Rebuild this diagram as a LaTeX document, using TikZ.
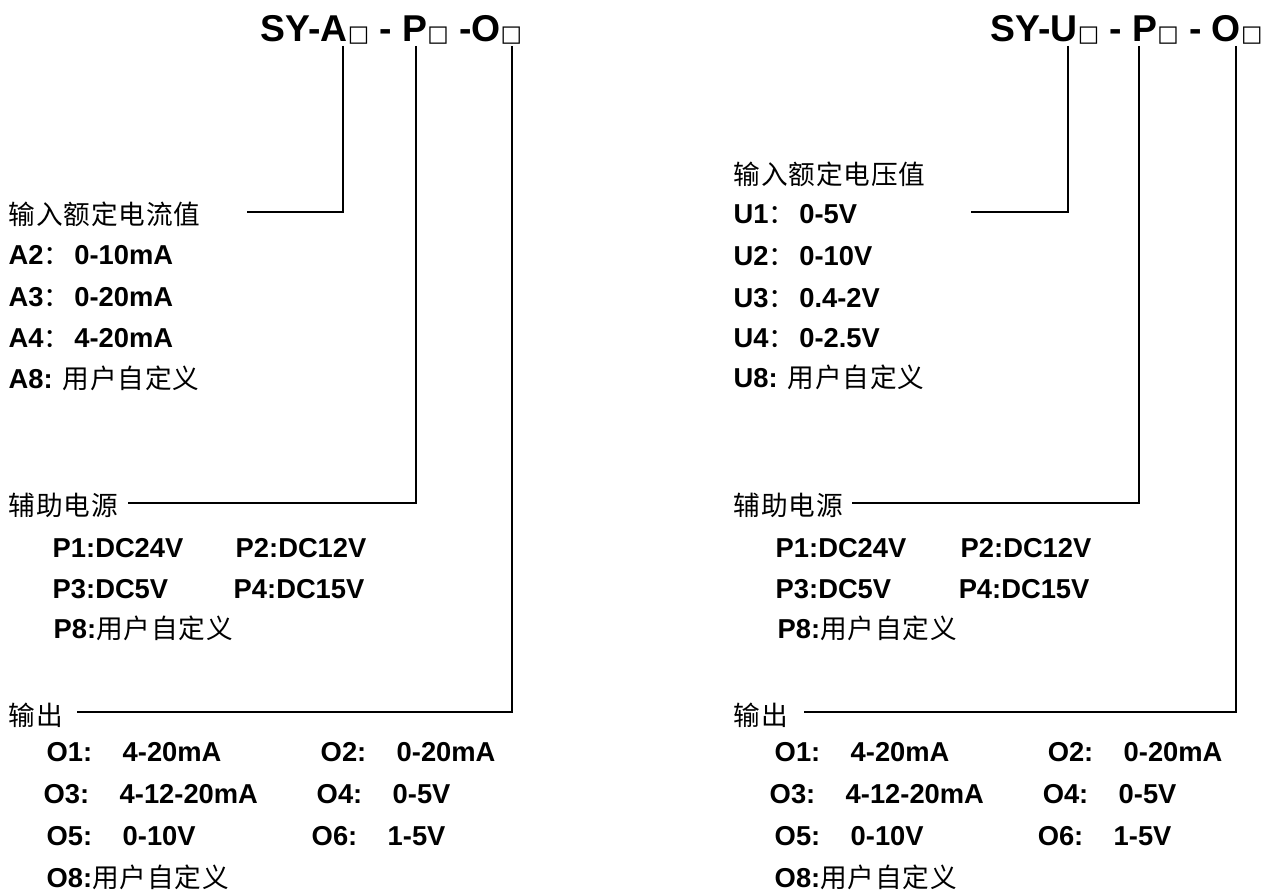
\documentclass[tikz,border=0pt]{standalone}
\usepackage{fontspec}
\setmainfont{Liberation Sans}
\newfontfamily\cjk[LetterSpace=3]{Noto Sans CJK SC}
\newfontfamily\boxfont{DejaVu Sans}
\usetikzlibrary{positioning}
\newcommand{\sq}{{\boxfont\mdseries\fontsize{17}{17}\selectfont □}}
\newcommand{\zh}[1]{{\cjk\mdseries\fontsize{20}{24}\selectfont #1}}
\newcommand{\zc}{\zh{：}\hspace{3pt}}
\newlength{\optw}
\setlength{\optw}{57pt}
\newcommand{\opt}[2]{\makebox[\optw][l]{#1}#2}

\begin{document}
\begin{tikzpicture}[x=0.75pt, y=-0.75pt, line width=1.1pt,
    lbl/.style={anchor=base west, inner sep=0pt, font=\fontsize{20.5}{24}\selectfont\bfseries},
    head/.style={anchor=base west, inner sep=0pt, font=\fontsize{28}{34}\selectfont\bfseries},
    zhlbl/.style={anchor=base west, inner sep=0pt, font=\fontsize{20}{24}\selectfont\cjk}]
    \useasboundingbox (0,0) rectangle (1269,892);

    % left: current input
    \node[head] (titleA) at (260,41) {SY-A\sq{} - P\sq{} -O\sq{}};
    \coordinate (topA1) at (343,46);
    \coordinate (topA2) at (416,46);
    \coordinate (topA3) at (512,46);
    \coordinate (endA1) at (247,212);
    \coordinate (endA2) at (128,503);
    \coordinate (endA3) at (77,712);

    \node[zhlbl] (inA) at (8,224) {输入额定电流值};
    \node[lbl] (a2) at (8,264) {A2\zc 0-10mA};
    \node[lbl] (a3) at (8,306) {A3\zc 0-20mA};
    \node[lbl] (a4) at (8,347) {A4\zc 4-20mA};
    \node[lbl] (a8) at (8,388) {A8: \zh{用户自定义}};

    \node[zhlbl] (pwA) at (8,515) {辅助电源};
    \node[lbl] (pa1) at (52,557) {P1:DC24V};
    \node[lbl] (pa2) at (235,557) {P2:DC12V};
    \node[lbl] (pa3) at (52,598) {P3:DC5V};
    \node[lbl] (pa4) at (233,598) {P4:DC15V};
    \node[lbl] (pa8) at (53,638) {P8:\zh{用户自定义}};

    \node[zhlbl] (outA) at (8,725) {输出};
    \node[lbl] (oa1) at (46,761) {\opt{O1:}{4-20mA}};
    \node[lbl] (oa2) at (320,761) {\opt{O2:}{0-20mA}};
    \node[lbl] (oa3) at (43,803) {\opt{O3:}{4-12-20mA}};
    \node[lbl] (oa4) at (316,803) {\opt{O4:}{0-5V}};
    \node[lbl] (oa5) at (46,845) {\opt{O5:}{0-10V}};
    \node[lbl] (oa6) at (311,845) {\opt{O6:}{1-5V}};
    \node[lbl] (oa8) at (46,887) {O8:\zh{用户自定义}};

    \draw (topA1) |- (endA1);
    \draw (topA2) |- (endA2);
    \draw (topA3) |- (endA3);

    % right: voltage input
    \node[head] (titleU) at (990,41) {SY-U\sq{} - P\sq{} - O\sq{}};
    \coordinate (topU1) at (1068,46);
    \coordinate (topU2) at (1139,46);
    \coordinate (topU3) at (1236,46);
    \coordinate (endU1) at (971,212);
    \coordinate (endU2) at (852,503);
    \coordinate (endU3) at (804,712);

    \node[zhlbl] (inU) at (733,184) {输入额定电压值};
    \node[lbl] (u1) at (733,223) {U1\zc 0-5V};
    \node[lbl] (u2) at (733,265) {U2\zc 0-10V};
    \node[lbl] (u3) at (733,307) {U3\zc 0.4-2V};
    \node[lbl] (u4) at (733,347) {U4\zc 0-2.5V};
    \node[lbl] (u8) at (733,387) {U8: \zh{用户自定义}};

    \node[zhlbl] (pwU) at (733,515) {辅助电源};
    \node[lbl] (pu1) at (775,557) {P1:DC24V};
    \node[lbl] (pu2) at (960,557) {P2:DC12V};
    \node[lbl] (pu3) at (775,598) {P3:DC5V};
    \node[lbl] (pu4) at (958,598) {P4:DC15V};
    \node[lbl] (pu8) at (777,638) {P8:\zh{用户自定义}};

    \node[zhlbl] (outU) at (733,725) {输出};
    \node[lbl] (ou1) at (774,761) {\opt{O1:}{4-20mA}};
    \node[lbl] (ou2) at (1047,761) {\opt{O2:}{0-20mA}};
    \node[lbl] (ou3) at (769,803) {\opt{O3:}{4-12-20mA}};
    \node[lbl] (ou4) at (1042,803) {\opt{O4:}{0-5V}};
    \node[lbl] (ou5) at (774,845) {\opt{O5:}{0-10V}};
    \node[lbl] (ou6) at (1037,845) {\opt{O6:}{1-5V}};
    \node[lbl] (ou8) at (774,887) {O8:\zh{用户自定义}};

    \draw (topU1) |- (endU1);
    \draw (topU2) |- (endU2);
    \draw (topU3) |- (endU3);
\end{tikzpicture}
\end{document}
